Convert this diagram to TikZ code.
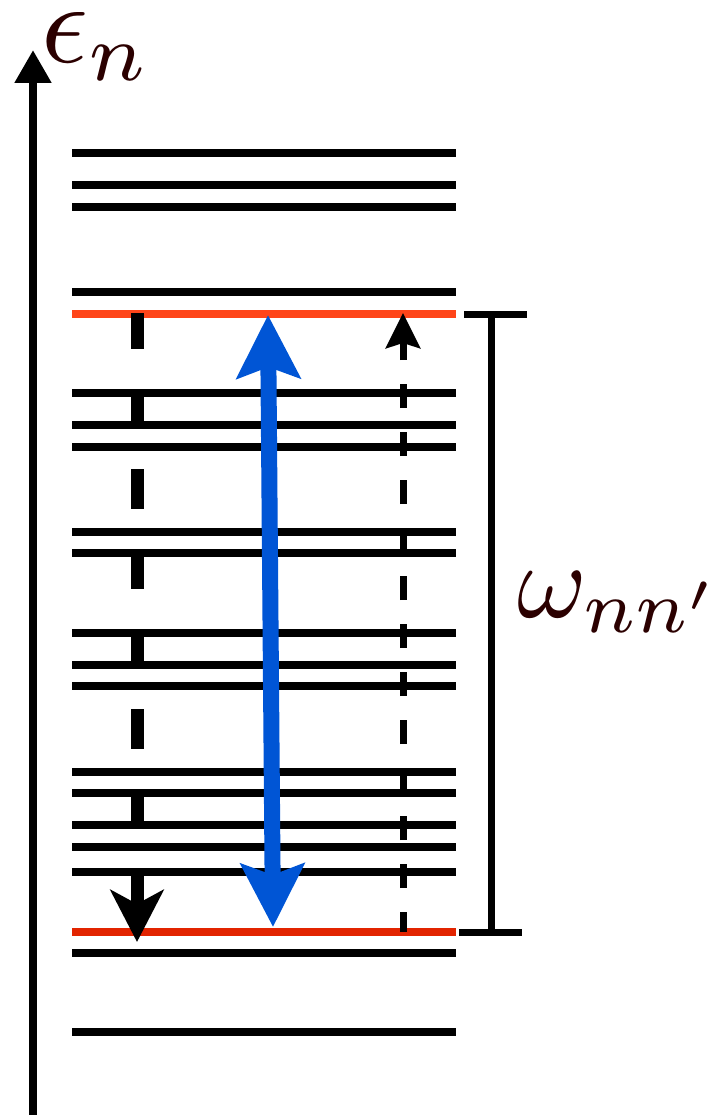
\documentclass[tikz,border=0pt]{standalone}
\usetikzlibrary{arrows.meta}
\definecolor{lvlhi}{RGB}{255,69,25}
\definecolor{lvllo}{RGB}{226,36,0}
\definecolor{transblue}{RGB}{0,85,213}
\definecolor{labelbrown}{RGB}{43,0,0}
\begin{document}
\begin{tikzpicture}[x=1pt,y=-1pt,
  level/.style={line width=7.5pt},
  axisline/.style={line width=8pt,-{Triangle[length=33pt,width=35pt]}},
  cascade/.style={line width=13pt,dash pattern=on 40pt off 40pt,dash phase=4pt,
    -{Stealth[length=52pt,width=53pt,inset=14pt]}},
  jump/.style={line width=7pt,dash pattern=on 24pt off 24pt,dash phase=4pt,
    -{Stealth[length=35pt,width=34pt,inset=5pt]}},
  gap/.style={transblue,line width=16pt,
    {Stealth[length=63pt,width=63pt,inset=11pt]}-{Stealth[length=63pt,width=63pt,inset=11pt]}},
  bracket/.style={line width=7pt},
  sym/.style={labelbrown,inner sep=0pt,anchor=base west}]
\useasboundingbox (0,0) rectangle (719,1115);

% energy axis
\coordinate (axisbot) at (33,1115);
\coordinate (axistop) at (33,50);
\draw[axisline] (axisbot) -- (axistop);
\node[sym,scale=11.6] (eps) at (39,63) {$\epsilon_n$};

% energy levels
\foreach \y in {153,185,207,292,393,425,447,532,553,633,665,686,772,793,825,847,872,953,1032}
  \draw[level] (72,\y) -- (456,\y);
\draw[level,lvlhi] (72,314) -- (456,314);
\draw[level,lvllo] (72,932) -- (456,932);

% step-by-step relaxation
\coordinate (casctop) at (137,313);
\coordinate (cascbot) at (137,942);
\draw[cascade] (casctop) -- (cascbot);

% direct excitation
\coordinate (jumpbot) at (403,932);
\coordinate (jumptop) at (403,313);
\draw[jump] (jumpbot) -- (jumptop);

% transition between the two marked levels
\coordinate (gaptop) at (268,315);
\coordinate (gapbot) at (273,927);
\draw[gap] (gaptop) -- (gapbot);

% energy difference bracket
\coordinate (brtop) at (491,314);
\coordinate (brbot) at (491,932);
\draw[bracket] (brtop) -- (brbot);
\draw[bracket] (464,314) -- (527,314);
\draw[bracket] (459,932) -- (522,932);
\node[sym,scale=10.6] (omega) at (515,617) {$\omega_{nn'}$};
\end{tikzpicture}
\end{document}
